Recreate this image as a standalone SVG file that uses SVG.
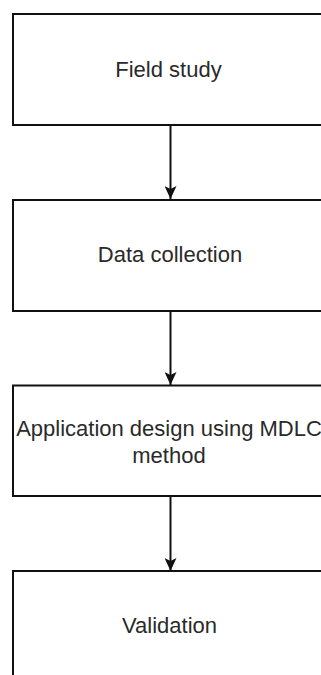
<svg xmlns="http://www.w3.org/2000/svg" width="321" height="675" viewBox="0 0 321 675">
  <defs>
    <style>
      .box { fill: #ffffff; stroke: #111111; stroke-width: 2; }
      .label { font-family: "Liberation Sans", Arial, sans-serif; font-size: 22px; fill: #2a2a2a; text-anchor: middle; }
      .edge { stroke: #111111; stroke-width: 2; fill: none; }
    </style>
    <marker id="arrow" markerUnits="userSpaceOnUse" viewBox="0 0 13 12" refX="13" refY="6" markerWidth="13" markerHeight="12" orient="auto">
      <path d="M0,0 L13,6 L0,12 L3,6 Z" fill="#111111"/>
    </marker>
  </defs>
  <rect width="321" height="675" fill="#ffffff"/>

  <g id="field-study">
    <rect class="box" x="13" y="14" width="320" height="111"/>
    <text class="label" x="168.5" y="77">Field study</text>
  </g>

  <g id="data-collection">
    <rect class="box" x="13" y="200" width="320" height="111"/>
    <text class="label" x="170" y="262">Data collection</text>
  </g>

  <g id="application-design">
    <rect class="box" x="13" y="385.5" width="320" height="110.5"/>
    <text class="label" x="169" y="436">Application design using MDLC</text>
    <text class="label" x="169" y="463">method</text>
  </g>

  <g id="validation">
    <rect class="box" x="13" y="571" width="320" height="120"/>
    <text class="label" x="169.5" y="633">Validation</text>
  </g>

  <g id="connectors">
    <path class="edge" d="M170.5,125 L170.5,199" marker-end="url(#arrow)"/>
    <path class="edge" d="M170.5,311 L170.5,385" marker-end="url(#arrow)"/>
    <path class="edge" d="M170.5,496 L170.5,571" marker-end="url(#arrow)"/>
  </g>
</svg>
